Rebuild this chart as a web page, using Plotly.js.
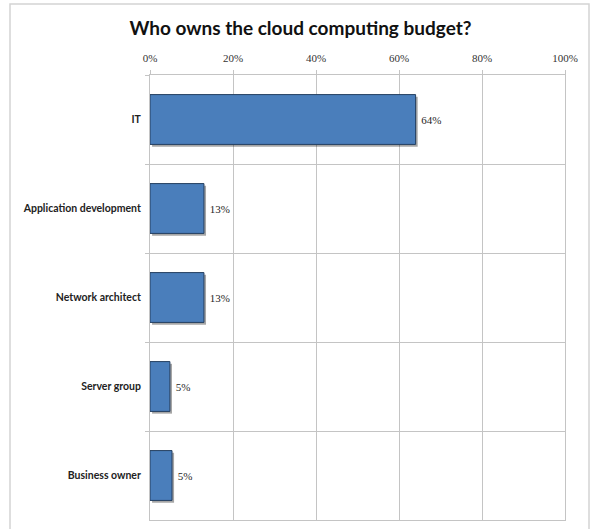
<!DOCTYPE html>
<html>
<head>
<meta charset="utf-8">
<script src="https://cdn.plot.ly/plotly-3.0.1.min.js"></script>
<style>
  html, body { margin: 0; padding: 0; background: #fff; }
  #chart { width: 595px; height: 529px; }
</style>
</head>
<body>
<div id="chart"></div>
<script>
// Data
const categories = ["IT", "Application development", "Network architect", "Server group", "Business owner"];
const shares = [0.64, 0.13, 0.13, 0.048, 0.053];
const xTickVals = [0, 0.2, 0.4, 0.6, 0.8, 1.0];
const xTickText = ["0%", "20%", "40%", "60%", "80%", "100%"];
const chartTitle = "Who owns the cloud computing budget?";

const barWidth = 0.56;

const shadow = {
  type: "bar",
  orientation: "h",
  y: categories,
  x: shares,
  base: 0.005,
  width: barWidth,
  offset: -barWidth / 2 + 0.025,
  marker: { color: "rgba(0,0,0,0.35)", line: { width: 0 } },
  hoverinfo: "skip",
  showlegend: false
};

const bars = {
  type: "bar",
  orientation: "h",
  y: categories,
  x: shares,
  width: barWidth,
  marker: { color: "#4a7ebb", line: { color: "#243f60", width: 1 } },
  texttemplate: "\u00a0%{x:.0%}",
  textposition: "outside",
  cliponaxis: false,
  textfont: { family: "Liberation Serif, serif", size: 11, color: "#262626" },
  showlegend: false
};

const layout = {
  width: 595,
  height: 529,
  margin: { l: 150, r: 30, t: 75, b: 9 },
  paper_bgcolor: "#ffffff",
  plot_bgcolor: "#ffffff",
  barmode: "overlay",
  showlegend: false,
  title: {
    text: "<b>" + chartTitle + "</b>",
    x: 0.505, xanchor: "center", xref: "container",
    y: 1 - 28 / 529, yanchor: "middle", yref: "container",
    font: { family: "Lato, 'Open Sans', sans-serif", size: 19, color: "#111111" }
  },
  xaxis: {
    side: "top",
    range: [0, 1],
    tickvals: xTickVals,
    ticktext: xTickText,
    showgrid: true,
    gridcolor: "#c4c4c4",
    gridwidth: 1,
    zeroline: false,
    showline: true,
    linecolor: "#c4c4c4",
    mirror: true,
    ticks: "outside",
    ticklen: 4,
    tickcolor: "#c4c4c4",
    ticklabelstandoff: 4,
    tickfont: { family: "Liberation Serif, serif", size: 11, color: "#333333" },
    fixedrange: true
  },
  yaxis: {
    type: "category",
    autorange: "reversed",
    tickson: "boundaries",
    ticks: "outside",
    ticklen: 4,
    tickcolor: "#c4c4c4",
    showgrid: true,
    gridcolor: "#c4c4c4",
    gridwidth: 1,
    showline: true,
    linecolor: "#c4c4c4",
    mirror: true,
    ticklabelstandoff: 6,
    tickfont: { family: "Lato, 'Open Sans', sans-serif", size: 10.5, color: "#222222", weight: "bold" },
    fixedrange: true
  },
  shapes: [{
    type: "rect",
    xref: "paper", yref: "paper",
    x0: (10 - 150) / 415, x1: (589 - 150) / 415,
    y0: -0.06, y1: 1 + (75 - 4) / 445,
    line: { color: "#d4d4d4", width: 1.5 },
    fillcolor: "rgba(0,0,0,0)",
    layer: "below"
  }]
};

Plotly.newPlot("chart", [shadow, bars], layout, { displayModeBar: false, staticPlot: true });
</script>
</body>
</html>
